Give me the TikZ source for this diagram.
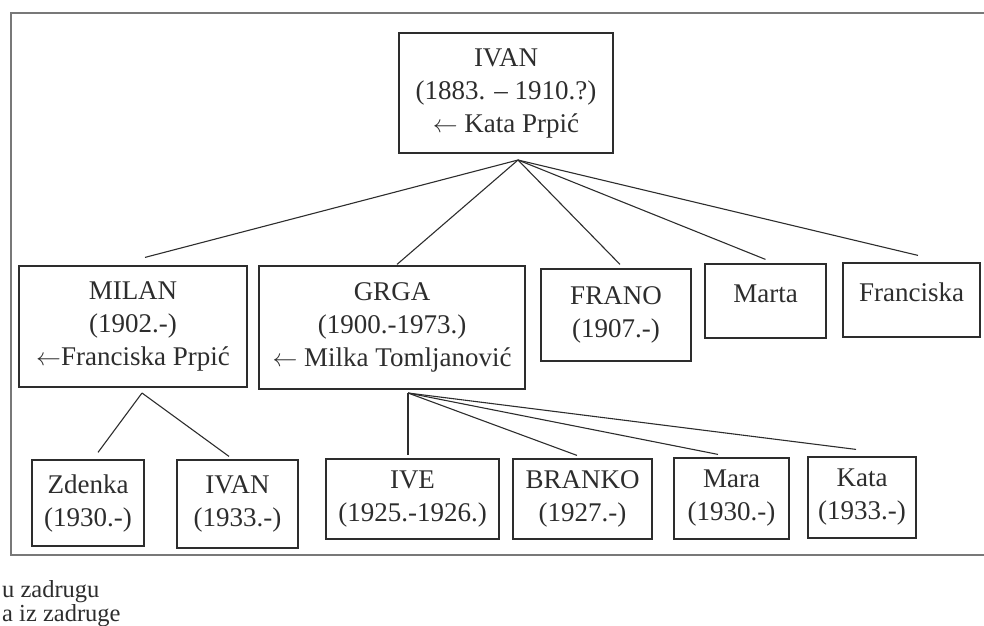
\documentclass[tikz,border=0pt]{standalone}
\usepackage{fontspec}
\setmainfont{Liberation Serif}
\usepackage{xcolor}
\definecolor{treeInk}{RGB}{45,45,45}
\definecolor{frameGray}{RGB}{120,120,120}
\newcommand{\inarrow}{\ensuremath{\leftarrow}}

\begin{document}
\begin{tikzpicture}[x=1pt, y=-1pt]
    % Styles
    \tikzstyle{person} = [rectangle, draw=treeInk, line width=1.2pt, text=treeInk, align=center, inner sep=2pt, font=\fontsize{27}{33}\selectfont]
    \tikzstyle{branch} = [draw=treeInk, line width=1.1pt]
    \tikzstyle{note} = [anchor=base west, inner sep=0pt, text=treeInk, font=\fontsize{24.5}{27}\selectfont]

    \useasboundingbox (0,0) rectangle (984,625);

    % Frame
    \draw[frameGray, line width=1.6pt] (984,13) -- (11,13) -- (11,555) -- (984,555);

    % Root
    \node[person, minimum width=214pt, minimum height=120pt] (ivan) at (506,93) {IVAN\\(1883. – 1910.?)\\\inarrow{} Kata Prpić};

    % Children
    \node[person, minimum width=228pt, minimum height=121pt] (milan) at (133,326.5) {MILAN\\(1902.-)\\\inarrow{}Franciska Prpić};
    \node[person, minimum width=266pt, minimum height=123pt] (grga) at (392,327.5) {GRGA\\(1900.-1973.)\\\inarrow{} Milka Tomljanović};
    \node[person, minimum width=150pt, minimum height=92pt] (frano) at (616,315) {FRANO\\(1907.-)};
    \node[person, minimum width=121pt, minimum height=74pt, text height=19pt, text depth=17pt] (marta) at (765.5,301) {Marta};
    \node[person, minimum width=137pt, minimum height=74pt, text height=19pt, text depth=17pt] (franciska) at (911.5,300) {Franciska};

    % Grandchildren
    \node[person, minimum width=112pt, minimum height=86pt] (zdenka) at (88,503) {Zdenka\\(1930.-)};
    \node[person, minimum width=121pt, minimum height=88pt] (ivanjr) at (237.5,504) {IVAN\\(1933.-)};
    \node[person, minimum width=173pt, minimum height=80pt] (ive) at (412.5,499) {IVE\\(1925.-1926.)};
    \node[person, minimum width=139pt, minimum height=80pt] (branko) at (582.5,499) {BRANKO\\(1927.-)};
    \node[person, minimum width=115pt, minimum height=81pt] (mara) at (731.5,498.5) {Mara\\(1930.-)};
    \node[person, minimum width=108pt, minimum height=81pt] (kata) at (862,497.5) {Kata\\(1933.-)};

    % Branches
    \coordinate (ivanfork) at (518,160);
    \draw[branch] (ivanfork) -- ([xshift=12pt,yshift=8pt]milan.north);
    \draw[branch] (ivanfork) -- ([xshift=5pt,yshift=1pt]grga.north);
    \draw[branch] (ivanfork) -- ([xshift=4pt,yshift=4pt]frano.north);
    \draw[branch] (ivanfork) -- ([yshift=4pt]marta.north);
    \draw[branch] (ivanfork) -- ([xshift=6.5pt,yshift=7pt]franciska.north);

    \coordinate (milanfork) at (142,393);
    \draw[branch] (milanfork) -- ([xshift=10pt,yshift=7pt]zdenka.north);
    \draw[branch] (milanfork) -- ([xshift=-8.5pt,yshift=3pt]ivanjr.north);

    \coordinate (grgafork) at (408,393);
    \draw[branch] (grgafork) -- ([xshift=-4.5pt,yshift=3pt]ive.north);
    \draw[branch] (grgafork) -- ([xshift=-5.5pt,yshift=3pt]branko.north);
    \draw[branch] (grgafork) -- ([xshift=-13.5pt,yshift=3pt]mara.north);
    \draw[branch] (grgafork) -- ([xshift=-6pt,yshift=7pt]kata.north);

    % Notes
    \node[note] (joinnote) at (2,597) {u zadrugu};
    \node[note] (leavenote) at (2,621) {a iz zadruge};
\end{tikzpicture}
\end{document}
